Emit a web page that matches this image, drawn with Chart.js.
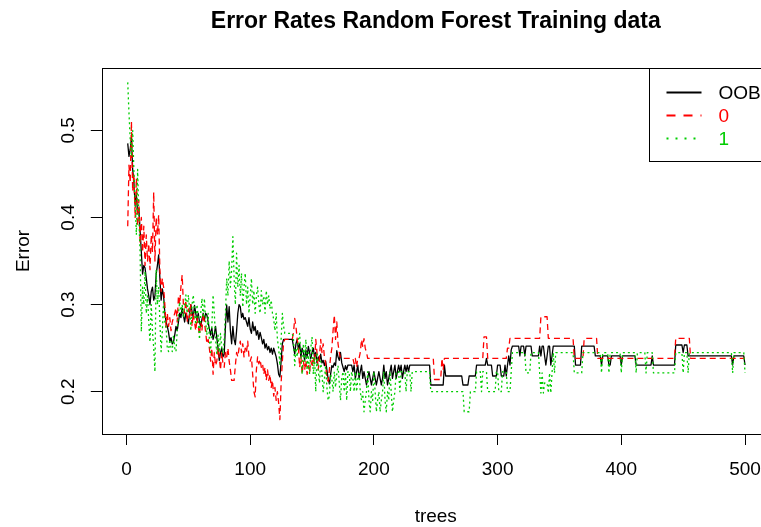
<!DOCTYPE html>
<html><head><meta charset="utf-8">
<script src="https://cdn.jsdelivr.net/npm/chart.js@4"></script>
<style>html,body{margin:0;padding:0;background:#fff;overflow:hidden;width:761px;height:527px}canvas{display:block}</style>
</head><body><canvas id="c" width="790" height="527"></canvas>
<script>
// ---- data (error rates per number of trees) ----
const seriesLabels = ["OOB", "0", "1"];
const xTicks = [0, 100, 200, 300, 400, 500];
const yTicks = [0.2, 0.3, 0.4, 0.5];

// OOB: trees 1..228 one value each, then change points
const oobEarly = [
0.485,0.47,0.478,0.491,0.455,0.44,0.414,0.425,0.405,0.41,
0.385,0.36,0.335,0.345,0.342,0.33,0.318,0.31,0.30,0.315,
0.32,0.305,0.31,0.335,0.345,0.357,0.33,0.305,0.318,0.31,
0.29,0.28,0.275,0.268,0.258,0.262,0.255,0.257,0.265,0.275,
0.27,0.28,0.29,0.285,0.296,0.288,0.28,0.29,0.285,0.278,
0.29,0.30,0.292,0.285,0.299,0.29,0.282,0.29,0.28,0.275,
0.283,0.29,0.282,0.29,0.288,0.28,0.272,0.265,0.273,0.26,
0.266,0.275,0.262,0.25,0.236,0.245,0.25,0.24,0.243,0.275,
0.2995,0.28,0.2975,0.27,0.255,0.275,0.26,0.254,0.27,0.29,
0.30,0.2975,0.285,0.29,0.283,0.285,0.28,0.275,0.285,0.272,
0.267,0.28,0.27,0.275,0.265,0.27,0.26,0.268,0.262,0.255,
0.26,0.25,0.255,0.248,0.252,0.245,0.25,0.243,0.25,0.245,
0.24,0.232,0.22,0.217,0.235,0.255,0.26,0.26,0.26,0.26,
0.26,0.26,0.26,0.26,0.252,0.243,0.255,0.26,0.248,0.255,
0.24,0.25,0.245,0.236,0.248,0.24,0.252,0.245,0.238,0.245,
0.25,0.24,0.245,0.233,0.24,0.235,0.243,0.233,0.236,0.23,
0.235,0.225,0.215,0.209,0.22,0.23,0.228,0.233,0.23,0.247,
0.24,0.236,0.245,0.233,0.228,0.223,0.23,0.225,0.2306,0.2306,
0.2306,0.2306,0.223,0.2306,0.2153,0.223,0.2306,0.2153,0.223,0.2306,
0.2153,0.223,0.2153,0.2077,0.2153,0.223,0.2153,0.2077,0.2153,0.223,
0.2153,0.2077,0.2153,0.223,0.2153,0.2077,0.2153,0.2306,0.2153,0.223,
0.2077,0.2153,0.223,0.2306,0.2153,0.223,0.2306,0.2153,0.223,0.2306,
0.223,0.2306,0.2153,0.223,0.2306,0.223,0.2306,0.223
];
const oobLateTrees = [
229,245,246,256,257,258,271,272,276,277,
282,283,290,291,292,295,296,299,300,302,
303,305,306,307,308,309,310,311,312,317,
318,319,321,322,323,327,328,333,334,335,
336,337,338,339,340,341,342,343,344,345,
362,363,367,368,378,379,383,384,385,389,
390,391,392,399,400,401,411,412,424,425,
426,443,444,449,450,451,453,454,489,490,
491,499,500
];
const oobLateErr = [
0.2306,0.2306,0.2077,0.2077,0.2306,0.218,0.218,0.2077,0.2077,0.218,
0.218,0.2306,0.2306,0.2383,0.2306,0.2306,0.218,0.218,0.2306,0.2306,
0.218,0.218,0.2306,0.218,0.2306,0.241,0.2306,0.248,0.2524,0.2524,
0.241,0.2524,0.2524,0.241,0.2524,0.2524,0.241,0.241,0.2524,0.241,
0.2524,0.2524,0.241,0.2306,0.241,0.2524,0.2524,0.2306,0.241,0.2524,
0.2524,0.2306,0.2306,0.2524,0.2524,0.241,0.241,0.2306,0.241,0.241,
0.2306,0.2306,0.241,0.241,0.2306,0.241,0.241,0.2306,0.2306,0.241,
0.2306,0.2306,0.2536,0.2536,0.245,0.2536,0.2536,0.241,0.241,0.2306,
0.241,0.241,0.2306
];

// class 0: trees 1..172, then change points
const class0Early = [
0.39,0.46,0.44,0.51,0.43,0.45,0.40,0.445,0.39,0.42,
0.37,0.40,0.36,0.39,0.345,0.38,0.35,0.37,0.34,0.38,
0.36,0.429,0.35,0.40,0.38,0.403,0.34,0.315,0.33,0.32,
0.30,0.274,0.29,0.275,0.285,0.27,0.28,0.285,0.29,0.296,
0.28,0.31,0.30,0.32,0.334,0.30,0.29,0.305,0.28,0.295,
0.285,0.30,0.275,0.29,0.28,0.27,0.285,0.275,0.265,0.28,
0.27,0.29,0.28,0.268,0.255,0.26,0.25,0.235,0.25,0.22,
0.245,0.23,0.235,0.25,0.24,0.225,0.245,0.232,0.228,0.245,
0.24,0.25,0.235,0.225,0.213,0.213,0.213,0.23,0.245,0.24,
0.25,0.258,0.245,0.255,0.24,0.25,0.245,0.258,0.24,0.235,
0.24,0.22,0.20,0.194,0.225,0.24,0.232,0.237,0.228,0.232,
0.22,0.228,0.213,0.225,0.213,0.22,0.205,0.213,0.195,0.205,
0.19,0.2,0.187,0.168,0.21,0.235,0.257,0.26,0.26,0.26,
0.26,0.26,0.26,0.26,0.268,0.284,0.275,0.26,0.25,0.228,
0.24,0.22,0.235,0.225,0.236,0.22,0.23,0.222,0.236,0.228,
0.24,0.232,0.26,0.245,0.225,0.24,0.26,0.245,0.255,0.24,
0.232,0.215,0.212,0.225,0.24,0.25,0.27,0.288,0.26,0.28,
0.255,0.245
];
const class0LateTrees = [
173,183,184,185,186,187,188,189,190,191,
192,193,194,195,248,249,254,255,256,257,
288,289,291,292,307,308,309,310,334,335,
340,341,361,362,369,370,380,381,443,444,
455,456,500
];
const class0LateErr = [
0.2383,0.2383,0.232,0.2383,0.228,0.2383,0.2383,0.245,0.26,0.252,
0.261,0.25,0.245,0.2383,0.2383,0.214,0.214,0.2383,0.225,0.2383,
0.2383,0.263,0.263,0.2383,0.2383,0.25,0.25,0.2613,0.2613,0.286,
0.286,0.2613,0.2613,0.2383,0.2383,0.2613,0.2613,0.2383,0.2383,0.2613,
0.2613,0.2383,0.2383
];

// class 1: trees 1..228, then change points
const class1Early = [
0.555,0.52,0.49,0.47,0.50,0.452,0.42,0.38,0.455,0.40,
0.36,0.269,0.32,0.30,0.338,0.29,0.31,0.28,0.257,0.30,
0.27,0.25,0.223,0.34,0.30,0.32,0.28,0.246,0.27,0.303,
0.28,0.273,0.25,0.246,0.26,0.25,0.246,0.265,0.25,0.246,
0.27,0.29,0.303,0.29,0.30,0.285,0.30,0.311,0.29,0.311,
0.295,0.27,0.30,0.311,0.29,0.277,0.30,0.285,0.26,0.29,
0.307,0.285,0.307,0.28,0.265,0.29,0.26,0.245,0.275,0.311,
0.29,0.26,0.244,0.265,0.245,0.267,0.25,0.244,0.26,0.29,
0.33,0.31,0.35,0.32,0.34,0.378,0.33,0.30,0.359,0.32,
0.345,0.31,0.336,0.297,0.32,0.336,0.30,0.32,0.29,0.31,
0.33,0.30,0.316,0.29,0.31,0.32,0.30,0.29,0.316,0.30,
0.31,0.29,0.316,0.30,0.31,0.295,0.305,0.29,0.283,0.27,
0.29,0.26,0.25,0.23,0.26,0.29,0.275,0.267,0.267,0.267,
0.267,0.267,0.267,0.267,0.26,0.23,0.25,0.24,0.26,0.267,
0.24,0.22,0.255,0.235,0.26,0.225,0.245,0.22,0.25,0.263,
0.22,0.24,0.2,0.245,0.225,0.21,0.235,0.222,0.2,0.215,
0.23,0.205,0.19,0.195,0.22,0.215,0.2,0.223,0.205,0.22,
0.23,0.21,0.19,0.215,0.223,0.2,0.223,0.19,0.223,0.223,
0.2,0.223,0.215,0.2,0.223,0.2,0.215,0.223,0.2,0.19,
0.2,0.177,0.19,0.2,0.223,0.19,0.177,0.2,0.19,0.223,
0.2,0.177,0.19,0.2,0.177,0.19,0.2,0.223,0.19,0.177,
0.2,0.19,0.223,0.2,0.177,0.19,0.2,0.223,0.223,0.223,
0.2,0.223,0.223,0.223,0.223,0.2,0.223,0.223
];
const class1LateTrees = [
229,230,231,245,246,272,273,277,278,282,
283,286,287,288,291,292,298,299,300,301,
303,304,307,308,310,311,312,322,323,326,
327,333,334,335,336,337,338,340,341,342,
343,344,345,346,347,361,362,368,369,383,
384,385,389,390,391,399,400,401,411,412,
413,419,420,421,425,426,443,444,449,450,
451,453,454,455,489,490,491,499,500
];
const class1LateErr = [
0.223,0.2,0.223,0.223,0.2,0.2,0.177,0.177,0.2,0.2,
0.223,0.223,0.2,0.223,0.223,0.2,0.2,0.223,0.223,0.2,
0.2,0.223,0.223,0.2,0.2,0.223,0.2448,0.2448,0.2215,0.2215,
0.2448,0.2448,0.2215,0.1985,0.2215,0.1985,0.21,0.21,0.1985,0.2215,
0.1985,0.2215,0.2448,0.2215,0.2448,0.2448,0.2215,0.2215,0.2448,0.2448,
0.2215,0.2448,0.2448,0.2215,0.2448,0.2448,0.2215,0.2448,0.2448,0.2215,
0.2448,0.2448,0.2215,0.2448,0.2448,0.2215,0.2215,0.2448,0.2448,0.2215,
0.2448,0.2448,0.2215,0.2448,0.2448,0.2215,0.2448,0.2448,0.2215
];

// ---- build points ----
function buildPoints(early, lateTrees, lateErr) {
  const pts = early.map((v, i) => ({x: i + 1, y: v}));
  lateTrees.forEach((t, i) => pts.push({x: t, y: lateErr[i]}));
  return pts;
}
const FONT = "'Liberation Sans', Arial, Helvetica, sans-serif";
const C_OOB = '#000000', C_0 = '#FF0000', C_1 = '#00CD00';

const datasets = [
  {label: seriesLabels[2], data: buildPoints(class1Early, class1LateTrees, class1LateErr),
   borderColor: C_1, borderDash: [2, 3], borderWidth: 1.3, legendOrder: 2, legendDash: [2, 7]},
  {label: seriesLabels[1], data: buildPoints(class0Early, class0LateTrees, class0LateErr),
   borderColor: C_0, borderDash: [6, 4], borderWidth: 1.3, legendOrder: 1, legendDash: [9, 8]},
  {label: seriesLabels[0], data: buildPoints(oobEarly, oobLateTrees, oobLateErr),
   borderColor: C_OOB, borderDash: [], borderWidth: 1.3, legendOrder: 0, legendDash: []}
];
datasets.forEach(d => { d.pointRadius = 0; d.tension = 0; d.fill = false; d.borderJoinStyle = 'round'; });

const framePlugin = {
  id: 'frameAndLegend',
  afterDraw(chart) {
    const ctx = chart.ctx, a = chart.chartArea;
    ctx.save();
    ctx.strokeStyle = '#000'; ctx.lineWidth = 1; ctx.setLineDash([]);
    ctx.strokeRect(Math.round(a.left) + 0.5, Math.round(a.top) + 0.5,
                   Math.round(a.right - a.left), Math.round(a.bottom - a.top));
    // legend (top right, inside plot)
    const bx = Math.round(a.right - 121) + 0.5, by = Math.round(a.top) + 0.5;
    const bw = Math.round(a.right) - bx + 0.5, bh = 93;
    ctx.fillStyle = '#fff'; ctx.fillRect(bx, by, bw, bh);
    ctx.strokeRect(bx, by, bw, bh);
    const items = chart.data.datasets.slice().sort((p, q) => p.legendOrder - q.legendOrder);
    ctx.font = '19px ' + FONT; ctx.textBaseline = 'middle'; ctx.textAlign = 'left';
    items.forEach((d, i) => {
      const y = by + 24 + i * 23;
      ctx.strokeStyle = d.borderColor; ctx.lineWidth = 2; ctx.setLineDash(d.legendDash);
      ctx.beginPath(); ctx.moveTo(bx + 17, y); ctx.lineTo(bx + 52, y); ctx.stroke();
      ctx.setLineDash([]);
      ctx.fillStyle = d.borderColor;
      ctx.fillText(d.label, bx + 69, y + 1);
    });
    ctx.restore();
  }
};

new Chart(document.getElementById('c'), {
  type: 'line',
  data: {datasets},
  options: {
    responsive: false, animation: false, devicePixelRatio: 1,
    layout: {padding: {top: 0, left: 0, right: 20.3, bottom: 0}},
    plugins: {
      legend: {display: false}, tooltip: {enabled: false},
      title: {display: true, text: 'Error Rates Random Forest Training data', fullSize: false,
              color: '#000', font: {family: FONT, size: 23, weight: 'bold'},
              padding: {top: 8, bottom: 32.4}}
    },
    scales: {
      x: {
        type: 'linear', position: 'bottom', min: -19.96, max: 519.96,
        afterFit(s) { s.height = 93; },
        afterBuildTicks(s) { s.ticks = xTicks.map(v => ({value: v})); },
        ticks: {color: '#000', font: {family: FONT, size: 19}, padding: 13.6, maxRotation: 0, autoSkip: false,
                callback: v => String(v)},
        grid: {drawOnChartArea: false, drawTicks: true, tickLength: 11, color: '#000', lineWidth: 1},
        border: {display: false},
        title: {display: true, text: 'trees', color: '#000', font: {family: FONT, size: 19}, padding: {top: 0, bottom: -1}}
      },
      y: {
        type: 'linear', position: 'left', min: 0.15145, max: 0.5715,
        afterFit(s) { s.width = 101.8; },
        afterBuildTicks(s) { s.ticks = yTicks.map(v => ({value: v})); },
        ticks: {color: '#000', font: {family: FONT, size: 19}, minRotation: 90, maxRotation: 90,
                crossAlign: 'center', padding: 9, autoSkip: false, callback: v => Number(v).toFixed(1)},
        grid: {drawOnChartArea: false, drawTicks: true, tickLength: 11, color: '#000', lineWidth: 1},
        border: {display: false},
        title: {display: true, text: 'Error', color: '#000', font: {family: FONT, size: 19}, padding: {top: 12.6, bottom: 0}}
      }
    }
  },
  plugins: [framePlugin]
});
</script>
</body></html>
